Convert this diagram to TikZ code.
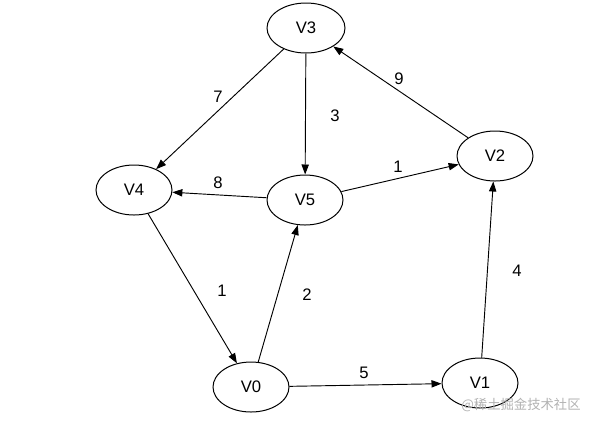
\documentclass[tikz,border=0pt]{standalone}
\usepackage{fontspec}
\setmainfont{Liberation Sans}
\newfontfamily\cjkfont{Noto Sans CJK SC}
\usetikzlibrary{shapes.geometric,arrows.meta}
\begin{document}
\begin{tikzpicture}[x=0.75pt,y=-0.75pt,
  vert/.style={draw,ellipse,line width=0.75pt,minimum width=57pt,minimum height=37.5pt,inner sep=0pt,font=\fontsize{12.5}{15}\selectfont},
  edge/.style={line width=0.7pt,-{Triangle[length=7.5pt,width=5.5pt]}},
  wt/.style={font=\fontsize{12.5}{15}\selectfont,inner sep=0pt}]
\useasboundingbox (0,0) rectangle (591,426);
\node[vert,minimum width=58.5pt] (v3) at (306,28) {V3};
\node[vert] (v2) at (495,156) {V2};
\node[vert] (v4) at (134,190) {V4};
\node[vert] (v5) at (305,200) {V5};
\node[vert] (v0) at (251,387) {V0};
\node[vert] (v1) at (480,383) {V1};
\draw[edge] (v3) -- (v4);
\draw[edge] (v3) -- (v5);
\draw[edge] (v2) -- (v3);
\draw[edge] (v5) -- (v4);
\draw[edge] (v5) -- (v2);
\draw[edge] (v4) -- (v0);
\draw[edge] (v0) -- (v5);
\draw[edge] (v0) -- (v1);
\draw[edge] (v1) -- (v2);
\node[wt] (w7) at (218,97) {7};
\node[wt] (w3) at (335,116) {3};
\node[wt] (w9) at (399,79) {9};
\node[wt] (w8) at (218,183) {8};
\node[wt] (w1a) at (398,167) {1};
\node[wt] (w1b) at (222,291) {1};
\node[wt] (w2) at (307,295) {2};
\node[wt] (w5) at (364,373) {5};
\node[wt] (w4) at (517,271) {4};
\node[inner sep=0pt,text=black!30,font=\cjkfont\fontsize{10}{12}\selectfont] (wm) at (521,405) {@稀土掘金技术社区};
\end{tikzpicture}
\end{document}
